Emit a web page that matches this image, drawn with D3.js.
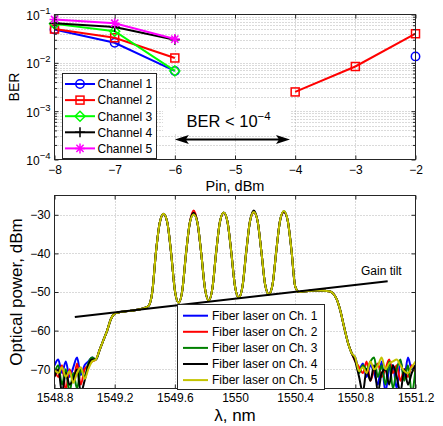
<!DOCTYPE html>
<html><head><meta charset="utf-8">
<script src="https://cdn.jsdelivr.net/npm/d3@7"></script>
<style>
body{margin:0;background:#fff}
svg text{font-family:"Liberation Sans",Arial,Helvetica,sans-serif;fill:#000}
</style>
</head><body>
<svg id="chart" width="443" height="426"></svg>
<script>
// ---------------- DATA ----------------
// Top panel: BER vs input power
const pinValues = [-8, -7, -6, -5, -4, -3, -2];
const berCh1 = [0.049, 0.026, 0.0068, null, null, null, 0.0136];
const berCh2 = [0.050, 0.033, 0.0126, null, 0.0025, 0.0084, 0.040];
const berCh3 = [0.064, 0.045, 0.0068, null, null, null, null];
const berCh4 = [0.066, 0.055, 0.030, null, null, null, null];
const berCh5 = [0.079, 0.066, 0.031, null, null, null, null];
const berNames = ["Channel 1", "Channel 2", "Channel 3", "Channel 4", "Channel 5"];
const berXTicks = [-8, -7, -6, -5, -4, -3, -2];
const berYExponents = [-4, -3, -2, -1];

// Bottom panel: optical spectra (grid 1548.800 nm, step 0.025 nm)
const lamStart = 1548.8, lamStep = 0.025;
// common part of the spectrum, 1549.075 .. 1550.775 nm
const spectrumMid = [
  -67.5, -65, -62.5, -60, -57, -55.6, -55.3, -55.1, -55.0, -54.9, -54.8, -54.6, -54.4, -54.1, -53.6,
  -50, -39.5, -32, -29.7, -32, -39.8, -49.5, -52.8,
  -49.5, -39.8, -32, -29.6, -32, -39.8, -49, -52.2,
  -49, -39.6, -31.8, -29.4, -31.8, -39.6, -48.5, -51.4,
  -48.5, -39.5, -31.6, -29.2, -31.6, -39.4, -48, -50.6,
  -48, -39.2, -31.4, -29.1, -31.4, -39, -48.5,
  -50.0, -49.9, -49.8, -49.7, -49.6, -49.6, -49.6, -49.7, -49.8, -50.3, -51.8, -54.8, -59, -63, -65.8
];
// per-channel peak levels (dBm) of the five channel peaks
const peaksCh1 = [-29.7, -29.8, -29.5, -29.3, -29.2];
const peaksCh2 = [-29.8, -28.9, -29.5, -29.4, -29.3];
const peaksCh3 = [-29.8, -29.8, -29.4, -29.3, -29.1];
const peaksCh4 = [-29.8, -29.5, -29.5, -28.9, -29.2];
const peaksCh5 = [-29.7, -29.9, -29.4, -29.3, -29.0];
const peakIndexInMid = [18, 26, 34, 42, 50];
// noise floor, 1548.800 .. 1549.050 nm
const noiseLeftCh1 = [-69, -67.5, -71, -68, -72, -69.5, -67, -71.5, -69, -68, -67];
const noiseLeftCh2 = [-70, -72, -69, -75.5, -70, -73, -68.5, -74, -70, -69, -68];
const noiseLeftCh3 = [-71, -69, -74, -70, -76, -71, -75, -70, -72, -68.5, -67];
const noiseLeftCh4 = [-72, -70, -76, -71, -74, -72.5, -70, -76, -73, -69, -67.5];
const noiseLeftCh5 = [-70, -71, -69.5, -72, -70.5, -73.5, -71, -69.5, -72.5, -70, -68];
// noise floor, 1550.800 .. 1551.200 nm
const noiseRightCh1 = [-67, -70, -68.5, -72, -69, -71, -74, -68, -76, -70, -69, -75, -68, -72, -67, -70, -69];
const noiseRightCh2 = [-68, -69.5, -71, -68, -73, -70, -68.5, -72, -70, -67.5, -71, -69, -73, -70, -72, -69, -71];
const noiseRightCh3 = [-67.5, -71, -69, -70, -68, -67, -72, -69, -74, -68, -75, -70, -67.5, -73, -69, -76, -70];
const noiseRightCh4 = [-68, -72, -76, -70, -73, -69, -76, -71, -70, -74, -69, -72, -76, -70, -74, -71, -69];
const noiseRightCh5 = [-67, -70.5, -69.5, -71, -68, -70, -69, -67, -70, -68.5, -68, -67.5, -69, -70.5, -71, -69.5, -68];
const specNames = ["Fiber laser on Ch. 1", "Fiber laser on Ch. 2", "Fiber laser on Ch. 3", "Fiber laser on Ch. 4", "Fiber laser on Ch. 5"];
const tiltLam = [1548.935, 1551.015];
const tiltDb = [-56.5, -47.2];
const specXTicks = [1548.8, 1549.2, 1549.6, 1550, 1550.4, 1550.8, 1551.2];
const specXLabels = ["1548.8", "1549.2", "1549.6", "1550", "1550.4", "1550.8", "1551.2"];
const specYTicks = [-70, -60, -50, -40, -30];

// ---------------- DRAW ----------------
(function () {
const svg = d3.select("#chart");
const FONT = 12;
const minus = s => String(s).replace("-", "\u2212");

// ===== Top panel =====
const L = 54.5, R = 415.5, T1 = 14.5, B1 = 159.5;
const x1 = d3.scaleLinear().domain([-8, -2]).range([L, R]);
const y1 = d3.scaleLog().domain([1e-4, 1e-1]).range([B1, T1]);
const topG = svg.append("g");

const gridStyle = g => g.attr("stroke", "#b4b4b4").attr("stroke-width", 1).attr("stroke-dasharray", "1,2").attr("fill", "none");
const minorY = [];
for (let e = -4; e < -1; e++) for (let m = 2; m <= 9; m++) minorY.push(m * Math.pow(10, e));
const majorY = berYExponents.map(e => Math.pow(10, e));
topG.append("g").call(gridStyle).selectAll("line").data(berXTicks.slice(1, -1)).join("line")
  .attr("x1", d => Math.round(x1(d)) + 0.5).attr("x2", d => Math.round(x1(d)) + 0.5).attr("y1", T1).attr("y2", B1);
topG.append("g").call(gridStyle).selectAll("line").data(minorY.concat(majorY.slice(1, -1))).join("line")
  .attr("x1", L).attr("x2", R).attr("y1", d => Math.round(y1(d)) + 0.5).attr("y2", d => Math.round(y1(d)) + 0.5);

// annotation background + text + arrow
topG.append("rect").attr("x", 163).attr("y", 108).attr("width", 127).attr("height", 26).attr("fill", "#fff");
const ann = topG.append("text").attr("x", 186.5).attr("y", 127).attr("font-size", 16.5);
ann.append("tspan").text("BER < 10");
ann.append("tspan").attr("dy", -7).attr("font-size", 11.5).text("\u22124");
const ay = 139.5, ax0 = x1(-6), ax1 = 290;
topG.append("line").attr("x1", ax0 + 6).attr("x2", ax1 - 6).attr("y1", ay).attr("y2", ay).attr("stroke", "#000").attr("stroke-width", 2);
topG.append("path").attr("d", `M${ax0},${ay} L${ax0 + 14},${ay - 4.5} L${ax0 + 11},${ay} L${ax0 + 14},${ay + 4.5} Z`).attr("fill", "#000");
topG.append("path").attr("d", `M${ax1},${ay} L${ax1 - 14},${ay - 4.5} L${ax1 - 11},${ay} L${ax1 - 14},${ay + 4.5} Z`).attr("fill", "#000");

// series
const berSeries = [berCh1, berCh2, berCh3, berCh4, berCh5];
const berColors = ["#0000ff", "#ff0000", "#00ff00", "#000000", "#ff00ff"];
const berMarkers = ["circle", "square", "diamond", "plus", "star"];
function marker(g, type, cx, cy, color) {
  const st = el => el.attr("stroke", color).attr("stroke-width", 1.5).attr("fill", "none");
  if (type === "circle") st(g.append("circle").attr("cx", cx).attr("cy", cy).attr("r", 4.2));
  else if (type === "square") st(g.append("rect").attr("x", cx - 4).attr("y", cy - 4).attr("width", 8).attr("height", 8));
  else if (type === "diamond") st(g.append("path").attr("d", `M${cx},${cy - 5}L${cx + 5},${cy}L${cx},${cy + 5}L${cx - 5},${cy}Z`));
  else if (type === "plus") st(g.append("path").attr("d", `M${cx - 5},${cy}H${cx + 5}M${cx},${cy - 5}V${cy + 5}`));
  else if (type === "star") st(g.append("path").attr("d", `M${cx - 5},${cy}H${cx + 5}M${cx},${cy - 5}V${cy + 5}M${cx - 3.6},${cy - 3.6}L${cx + 3.6},${cy + 3.6}M${cx - 3.6},${cy + 3.6}L${cx + 3.6},${cy - 3.6}`));
}
const berLine = d3.line().defined(d => d[1] != null).x(d => x1(d[0])).y(d => y1(d[1]));
berSeries.forEach((s, k) => {
  const pts = pinValues.map((p, i) => [p, s[i]]);
  const g = topG.append("g");
  g.append("path").attr("d", berLine(pts)).attr("fill", "none").attr("stroke", berColors[k]).attr("stroke-width", 2);
  pts.filter(d => d[1] != null).forEach(d => marker(g, berMarkers[k], x1(d[0]), y1(d[1]), berColors[k]));
});

const axStyle = g => { g.select(".domain").remove(); g.selectAll(".tick line").attr("stroke", "#262626"); g.selectAll("text").attr("font-size", FONT).attr("fill", "#000").attr("font-family", null); };
topG.append("g").attr("transform", `translate(0,${B1})`)
  .call(d3.axisBottom(x1).tickValues(berXTicks).tickSizeInner(-4).tickSizeOuter(0).tickPadding(6).tickFormat(d => minus(d)))
  .call(axStyle);
topG.append("g").attr("transform", `translate(0,${T1})`)
  .call(d3.axisTop(x1).tickValues(berXTicks).tickSizeInner(-4).tickSizeOuter(0).tickFormat(""))
  .call(axStyle);
const yAx = topG.append("g").attr("transform", `translate(${L},0)`)
  .call(d3.axisLeft(y1).tickValues(majorY).tickSizeInner(-4).tickSizeOuter(0).tickFormat(""))
  .call(axStyle);
yAx.selectAll(".tick").append("text").attr("x", -4).attr("y", 5).attr("text-anchor", "end").attr("font-size", FONT).attr("fill", "#000")
  .each(function (d) {
    const t = d3.select(this);
    t.append("tspan").text("10");
    t.append("tspan").attr("dy", -6).attr("font-size", 9.5).text(minus(Math.round(Math.log10(d))));
  });
topG.append("g").attr("transform", `translate(${L},0)`)
  .call(d3.axisLeft(y1).tickValues(minorY).tickSizeInner(-2.5).tickSizeOuter(0).tickFormat("")).call(axStyle);
topG.append("g").attr("transform", `translate(${R},0)`)
  .call(d3.axisRight(y1).tickValues(majorY).tickSizeInner(-4).tickSizeOuter(0).tickFormat("")).call(axStyle);
topG.append("g").attr("transform", `translate(${R},0)`)
  .call(d3.axisRight(y1).tickValues(minorY).tickSizeInner(-2.5).tickSizeOuter(0).tickFormat("")).call(axStyle);
topG.append("rect").attr("x", L).attr("y", T1).attr("width", R - L).attr("height", B1 - T1).attr("fill", "none").attr("stroke", "#262626");

// legend
const lg1 = topG.append("g");
lg1.append("rect").attr("x", 62.5).attr("y", 73.5).attr("width", 94).attr("height", 85).attr("fill", "#fff").attr("stroke", "#262626");
berNames.forEach((n, k) => {
  const yy = 84 + k * 16.1;
  lg1.append("line").attr("x1", 65).attr("x2", 95).attr("y1", yy).attr("y2", yy).attr("stroke", berColors[k]).attr("stroke-width", 2);
  marker(lg1, berMarkers[k], 80, yy, berColors[k]);
  lg1.append("text").attr("x", 97.5).attr("y", yy + 4.3).attr("font-size", FONT).text(n);
});

topG.append("text").attr("x", (L + R) / 2).attr("y", 190.5).attr("text-anchor", "middle").attr("font-size", 14.5).text("Pin, dBm");
topG.append("text").attr("transform", `translate(19,${(T1 + B1) / 2}) rotate(-90)`).attr("text-anchor", "middle").attr("font-size", 14).text("BER");

// ===== Bottom panel =====
const T2 = 195.5, B2 = 388.5;
const x2 = d3.scaleLinear().domain([1548.8, 1551.2]).range([L, R]);
const y2 = d3.scaleLinear().domain([-75, -25]).range([B2, T2]);
const bot = svg.append("g");
bot.append("defs").append("clipPath").attr("id", "clip2").append("rect").attr("x", L).attr("y", T2).attr("width", R - L).attr("height", B2 - T2);

bot.append("g").call(gridStyle).selectAll("line").data(specXTicks.slice(1, -1)).join("line")
  .attr("x1", d => Math.round(x2(d)) + 0.5).attr("x2", d => Math.round(x2(d)) + 0.5).attr("y1", T2).attr("y2", B2);
bot.append("g").call(gridStyle).selectAll("line").data(specYTicks).join("line")
  .attr("x1", L).attr("x2", R).attr("y1", d => Math.round(y2(d)) + 0.5).attr("y2", d => Math.round(y2(d)) + 0.5);

const specColors = ["#0000ff", "#ff0000", "#008000", "#000000", "#c4c400"];
const peakSets = [peaksCh1, peaksCh2, peaksCh3, peaksCh4, peaksCh5];
const leftSets = [noiseLeftCh1, noiseLeftCh2, noiseLeftCh3, noiseLeftCh4, noiseLeftCh5];
const rightSets = [noiseRightCh1, noiseRightCh2, noiseRightCh3, noiseRightCh4, noiseRightCh5];
const specLine = d3.line().x(d => x2(d[0])).y(d => y2(d[1])).curve(d3.curveMonotoneX);
const specG = bot.append("g").attr("clip-path", "url(#clip2)");
for (let k = 0; k < 5; k++) {
  const mid = spectrumMid.slice();
  peakIndexInMid.forEach((pi, j) => { mid[pi] = peakSets[k][j]; });
  const vals = leftSets[k].concat(mid, rightSets[k]);
  const pts = vals.map((v, i) => [lamStart + i * lamStep, v]);
  specG.append("path").attr("d", specLine(pts)).attr("fill", "none").attr("stroke", specColors[k]).attr("stroke-width", 2).attr("stroke-linejoin", "round");
}
bot.append("path").attr("d", d3.line().x(d => x2(d[0])).y(d => y2(d[1]))(tiltLam.map((l, i) => [l, tiltDb[i]])))
  .attr("stroke", "#000").attr("stroke-width", 2).attr("fill", "none");
bot.append("text").attr("x", 361).attr("y", 275).attr("font-size", FONT).text("Gain tilt");

bot.append("g").attr("transform", `translate(0,${B2})`)
  .call(d3.axisBottom(x2).tickValues(specXTicks).tickSizeInner(-4).tickSizeOuter(0).tickPadding(4.5).tickFormat((d, i) => specXLabels[i]))
  .call(axStyle);
bot.append("g").attr("transform", `translate(0,${T2})`)
  .call(d3.axisTop(x2).tickValues(specXTicks).tickSizeInner(-4).tickSizeOuter(0).tickFormat("")).call(axStyle);
bot.append("g").attr("transform", `translate(${L},0)`)
  .call(d3.axisLeft(y2).tickValues(specYTicks).tickSizeInner(-4).tickSizeOuter(0).tickPadding(4).tickFormat(d => minus(d)))
  .call(axStyle);
bot.append("g").attr("transform", `translate(${R},0)`)
  .call(d3.axisRight(y2).tickValues(specYTicks).tickSizeInner(-4).tickSizeOuter(0).tickFormat("")).call(axStyle);
bot.append("rect").attr("x", L).attr("y", T2).attr("width", R - L).attr("height", B2 - T2).attr("fill", "none").attr("stroke", "#262626");

const lg2 = bot.append("g");
lg2.append("rect").attr("x", 177.5).attr("y", 304.5).attr("width", 147).attr("height", 85).attr("fill", "#fff").attr("stroke", "#262626");
specNames.forEach((n, k) => {
  const yy = 315.7 + k * 16.1;
  lg2.append("line").attr("x1", 183).attr("x2", 208).attr("y1", yy).attr("y2", yy).attr("stroke", specColors[k]).attr("stroke-width", 2);
  lg2.append("text").attr("x", 212).attr("y", yy + 4.3).attr("font-size", FONT).text(n);
});

bot.append("text").attr("x", (L + R) / 2).attr("y", 420.5).attr("text-anchor", "middle").attr("font-size", 17).text("\u03bb, nm");
bot.append("text").attr("transform", `translate(21.5,${(T2 + B2) / 2}) rotate(-90)`).attr("text-anchor", "middle").attr("font-size", 17).text("Optical power, dBm");
})();
</script>
</body></html>
